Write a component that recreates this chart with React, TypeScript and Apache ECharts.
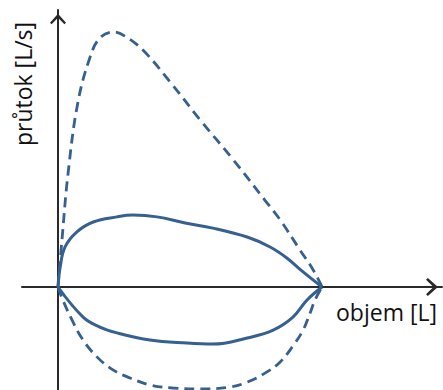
import React, { useEffect, useRef } from "react";
import * as echarts from "echarts";

// volume [L] and flow [L/s]
const maxUpperVol = [0, 0.09, 0.23, 0.45, 0.73, 0.95, 1.25, 1.52, 1.93, 2.55, 3.23, 3.95, 4.7, 5.05, 5.5, 5.8, 6.0];
const maxUpperFlow = [0, 1.84, 4.47, 7.22, 9.02, 9.76, 10.0, 9.84, 9.29, 8.04, 6.55, 5.06, 3.41, 2.63, 1.45, 0.67, 0];
const maxLowerVol = [0, 0.11, 0.34, 0.57, 0.89, 1.25, 1.64, 2.09, 2.61, 3.23, 3.91, 4.3, 4.75, 5.05, 5.34, 5.57, 5.73, 5.84, 6.0];
const maxLowerFlow = [0, -0.51, -1.37, -2.08, -2.75, -3.25, -3.57, -3.84, -3.96, -4.0, -3.92, -3.73, -3.33, -2.94, -2.31, -1.69, -1.02, -0.51, 0];
const tidalUpperVol = [0, 0.05, 0.16, 0.43, 0.8, 1.34, 1.7, 2.25, 2.89, 3.52, 4.3, 4.82, 5.2, 5.57, 6.0];
const tidalUpperFlow = [0, 0.78, 1.57, 2.16, 2.55, 2.75, 2.82, 2.75, 2.51, 2.31, 1.96, 1.57, 1.14, 0.59, 0];
const tidalLowerVol = [0, 0.57, 0.95, 1.34, 2.09, 2.93, 3.52, 4.3, 4.89, 5.34, 5.66, 6.0];
const tidalLowerFlow = [0, -1.18, -1.57, -1.8, -2.08, -2.2, -2.24, -2.0, -1.69, -1.18, -0.51, 0];

const xName = "objem [L]";
const yName = "průtok [L/s]";

const zip = (xs: number[], ys: number[]) => xs.map((x, i) => [x, ys[i]]);

const BLUE = "#35608f";
const AXIS = "#2a2a2a";
const FONT = "'Open Sans', 'DejaVu Sans', sans-serif";
const chevron = "path://M8 0 L16 9 L14.4 10.6 L8 4 L1.6 10.6 L0 9 Z";

export default function App() {
  const ref = useRef<HTMLDivElement>(null);
  useEffect(() => {
    if (!ref.current) return;
    const chart = echarts.init(ref.current, undefined, { renderer: "svg" });
    const axisLine = (size: number[]) => ({
      show: true,
      onZero: true,
      symbol: ["none", chevron],
      symbolSize: size,
      symbolOffset: [0, -size[1] / 2],
      lineStyle: { color: AXIS, width: 2 },
    });
    const line = (data: number[][], dashed: boolean) => ({
      type: "line",
      data,
      showSymbol: false,
      symbol: "none",
      smooth: 0.4,
      clip: false,
      lineStyle: dashed
        ? { color: BLUE, width: 2.8, type: [10, 6] }
        : { color: BLUE, width: 3 },
    });
    chart.setOption({
      animation: false,
      grid: { left: 22, top: 10, width: 420, height: 380 },
      xAxis: {
        type: "value",
        min: -36 / 44,
        max: 384 / 44,
        axisLine: axisLine([18, 20]),
        axisTick: { show: false },
        axisLabel: { show: false },
        splitLine: { show: false },
      },
      yAxis: {
        type: "value",
        min: -103 / 25.5,
        max: 277 / 25.5,
        axisLine: axisLine([16, 18]),
        axisTick: { show: false },
        axisLabel: { show: false },
        splitLine: { show: false },
      },
      graphic: [
        {
          type: "text",
          x: 336,
          y: 312,
          style: {
            text: xName,
            fontFamily: FONT,
            fontSize: 23,
            fill: "#111",
            textAlign: "left",
            textVerticalAlign: "middle",
          },
        },
        {
          type: "text",
          x: 23,
          y: 84,
          rotation: Math.PI / 2,
          style: {
            text: yName,
            fontFamily: FONT,
            fontSize: 23,
            fill: "#111",
            textAlign: "center",
            textVerticalAlign: "middle",
          },
        },
      ],
      series: [
        line(zip(maxUpperVol, maxUpperFlow), true),
        line(zip(maxLowerVol, maxLowerFlow), true),
        line(zip(tidalUpperVol, tidalUpperFlow), false),
        line(zip(tidalLowerVol, tidalLowerFlow), false),
      ],
    });
    return () => chart.dispose();
  }, []);
  return (
    <div
      ref={ref}
      style={{ position: "fixed", left: 0, top: 0, width: 443, height: 390, background: "#fff" }}
    />
  );
}
